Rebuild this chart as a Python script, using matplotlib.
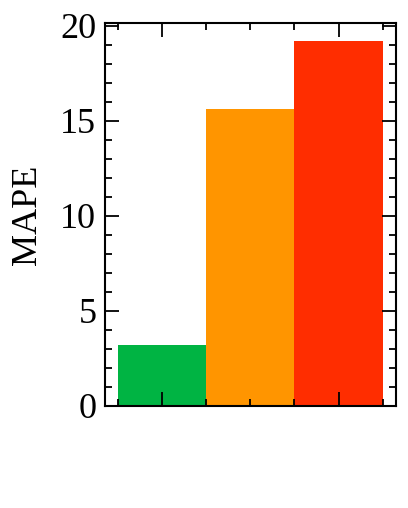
import matplotlib
matplotlib.use("Agg")
import matplotlib.pyplot as plt
from matplotlib.ticker import AutoMinorLocator, MultipleLocator

models = ['A', 'B', 'C']
mape = [3.2, 15.6, 19.2]
colors = ['#00b443', '#ff9500', '#ff2d00']

plt.rcParams['font.family'] = 'Liberation Serif'
plt.rcParams['mathtext.fontset'] = 'stix'

fig = plt.figure(figsize=(4.08, 5.08), dpi=100)
ax = fig.add_axes([0.2566, 0.2008, 0.7140, 0.7545])

x = list(range(len(models)))
ax.bar(x, mape, width=1.0, color=colors)

ax.set_ylabel('MAPE', fontsize=26, labelpad=12)
ax.xaxis.set_major_locator(MultipleLocator(2))
ax.xaxis.set_minor_locator(MultipleLocator(0.5))
ax.yaxis.set_major_locator(MultipleLocator(5))
ax.yaxis.set_minor_locator(AutoMinorLocator(5))
ax.set_xticklabels([])
ax.tick_params(which='both', direction='in', top=True, right=True, width=1.3, labelsize=26)
ax.tick_params(which='major', length=10)
ax.tick_params(which='minor', length=5)
ax.tick_params(axis='y', pad=6)
for s in ax.spines.values():
    s.set_linewidth(1.5)

fig.savefig('out.png', dpi=100)
